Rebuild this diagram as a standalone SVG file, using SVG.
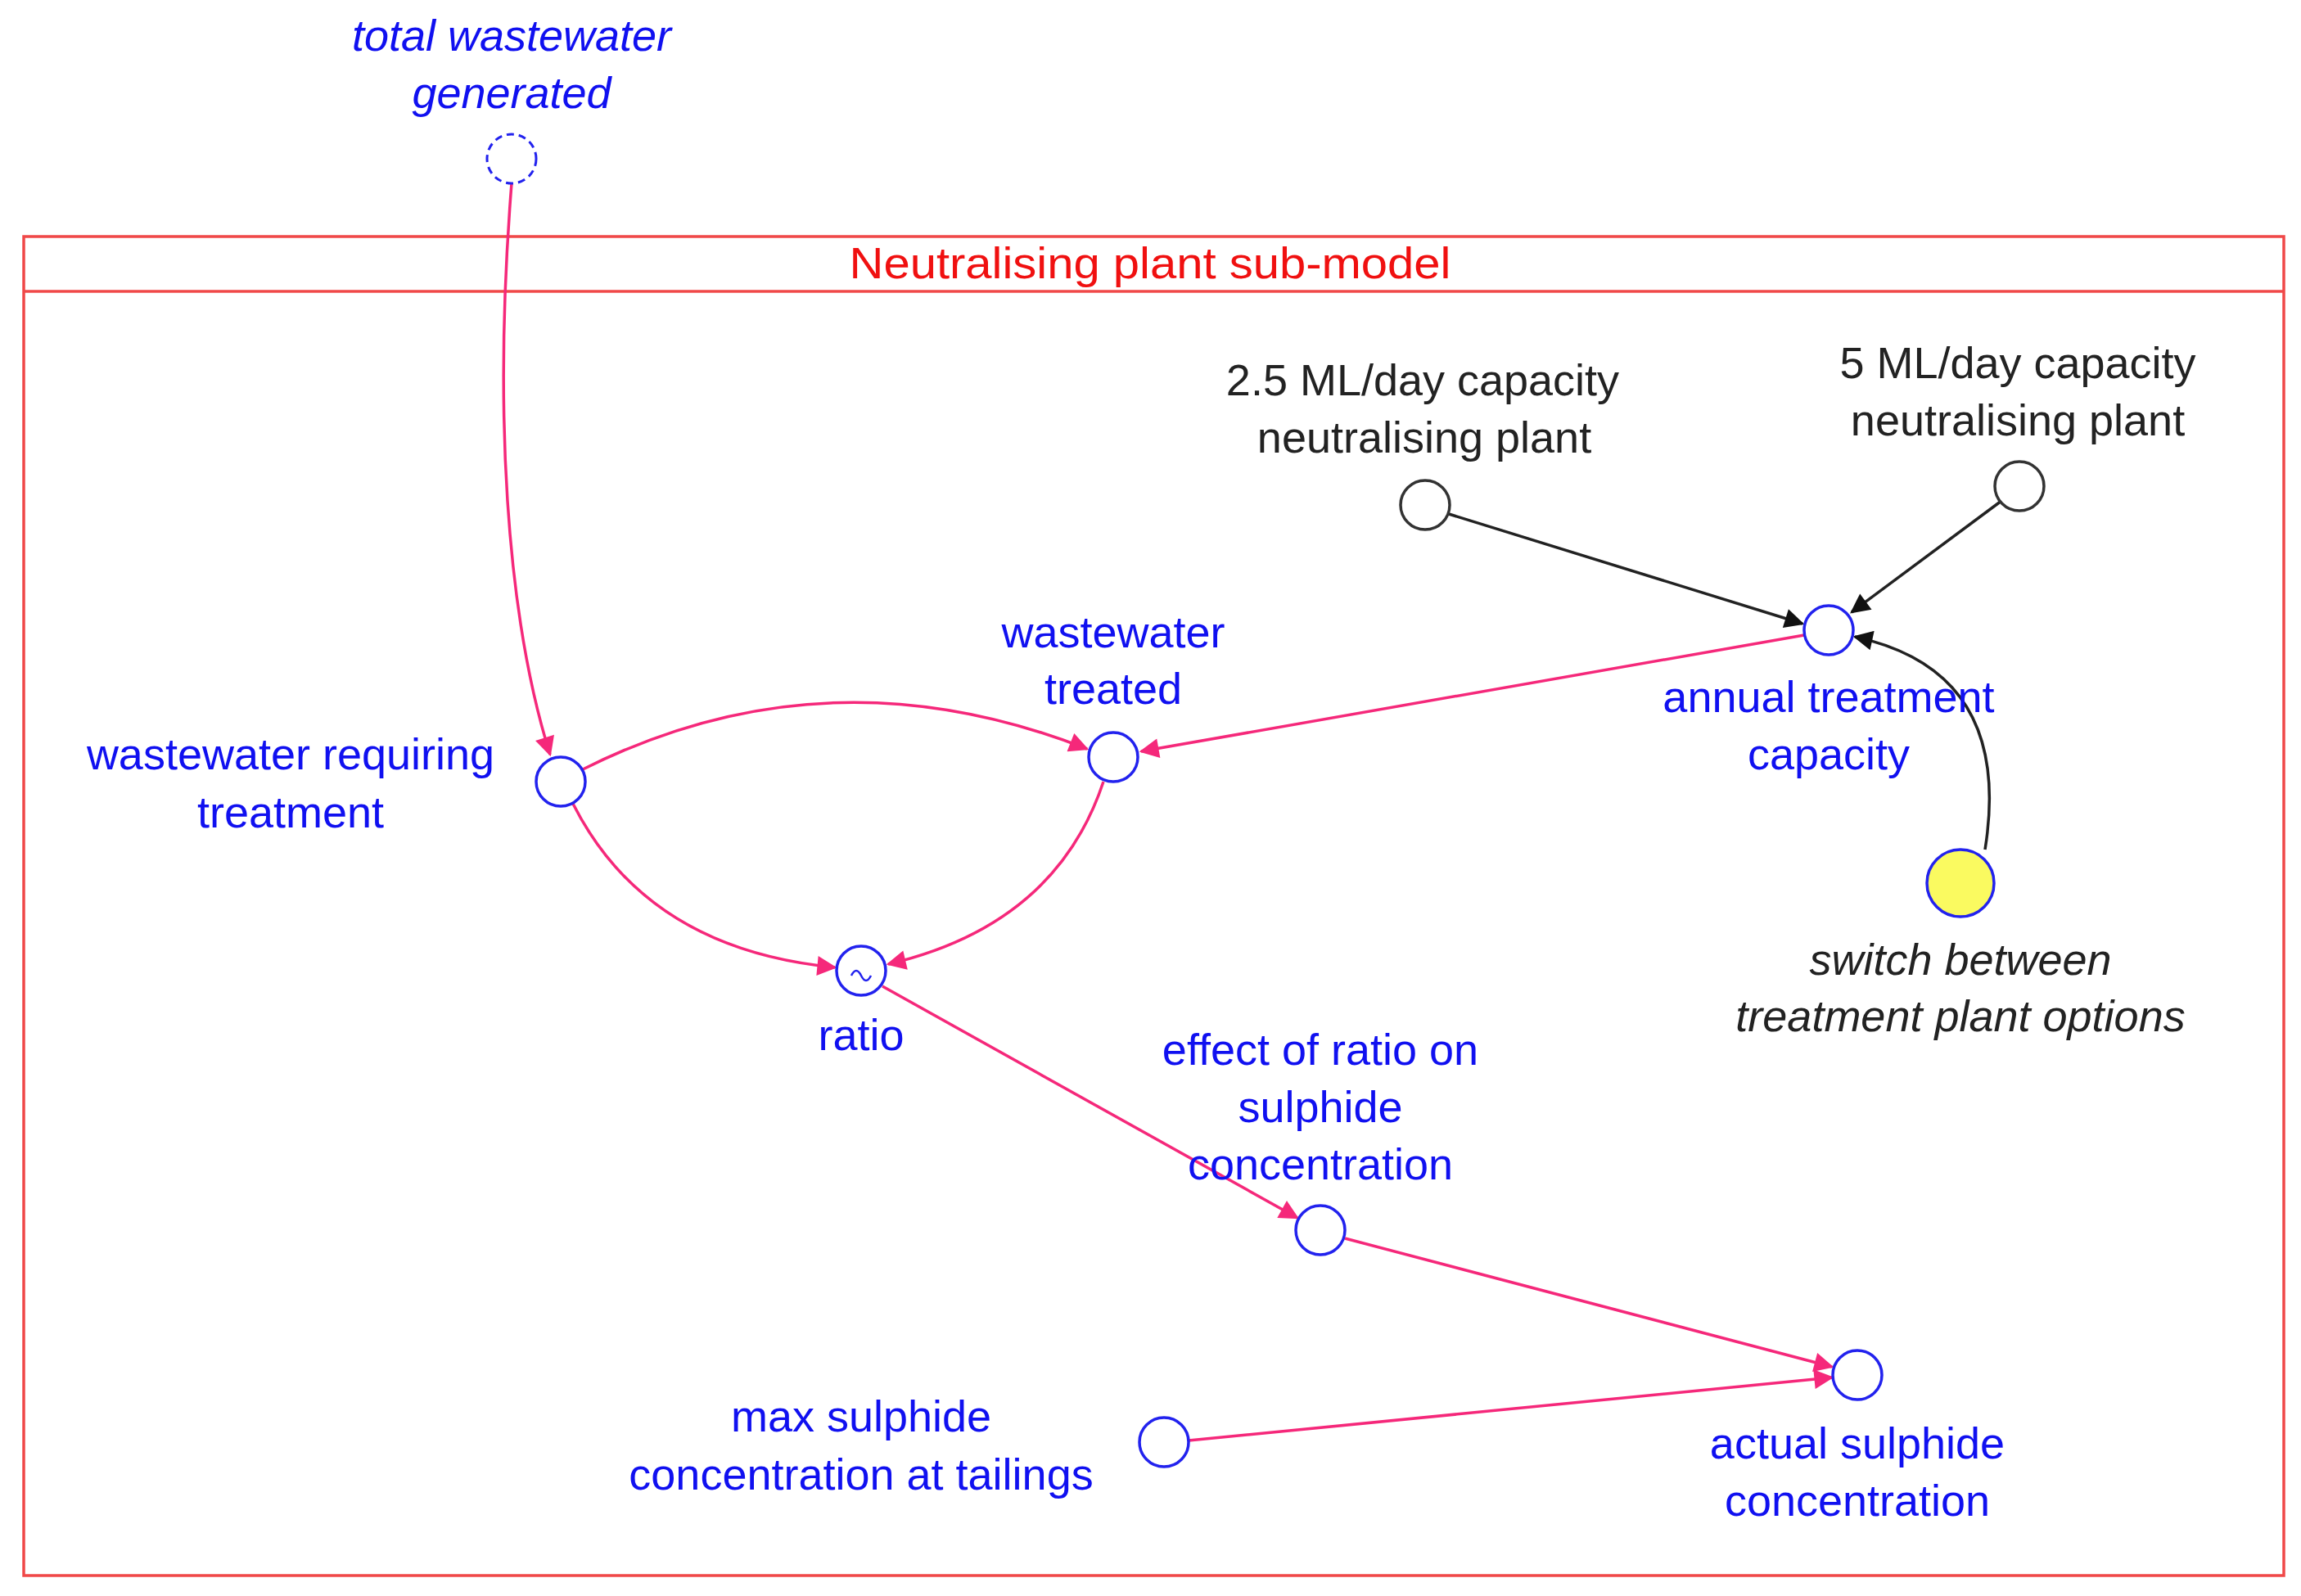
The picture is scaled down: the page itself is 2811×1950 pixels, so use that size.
<svg xmlns="http://www.w3.org/2000/svg" width="2811" height="1950" viewBox="0 0 2811 1950">
<style>
text{font-family:"Liberation Sans",Arial,sans-serif;font-size:54px;text-anchor:middle}
.b{fill:#1010f0}.k{fill:#222}.i{font-style:italic}
.n{fill:#fff;stroke:#2222ee;stroke-width:3.5}
.nk{fill:#fff;stroke:#333;stroke-width:3.5}
.p{fill:none;stroke:#f5287a;stroke-width:3.5}
.bl{fill:none;stroke:#222;stroke-width:3.5}
</style>
<defs>
<marker id="ap" viewBox="0 0 10 10" refX="9" refY="5" markerWidth="28" markerHeight="24" markerUnits="userSpaceOnUse" orient="auto"><path d="M0,0L10,5L0,10z" fill="#f5287a"/></marker>
<marker id="ak" viewBox="0 0 10 10" refX="9" refY="5" markerWidth="28" markerHeight="24" markerUnits="userSpaceOnUse" orient="auto"><path d="M0,0L10,5L0,10z" fill="#111"/></marker>
</defs>
<rect width="2811" height="1950" fill="#fff"/>
<g id="frame">
<rect x="29" y="289" width="2761" height="1636" fill="none" stroke="#f04848" stroke-width="3.5"/>
<line x1="29" y1="356" x2="2790" y2="356" stroke="#f04848" stroke-width="3.5"/>
<text x="1405" y="340" fill="#f01010" textLength="735" lengthAdjust="spacingAndGlyphs">Neutralising plant sub-model</text>
</g>
<g id="connectors">
<path class="p" d="M625,224 C603,500 618,750 672,922" marker-end="url(#ap)"/>
<path class="p" d="M712,940 Q1010,790 1328,915" marker-end="url(#ap)"/>
<path class="p" d="M700,982 Q790,1160 1020,1182" marker-end="url(#ap)"/>
<path class="p" d="M1348,955 Q1290,1130 1085,1178" marker-end="url(#ap)"/>
<path class="p" d="M2204,776 L1394,918" marker-end="url(#ap)"/>
<path class="p" d="M1078,1205 L1585,1488" marker-end="url(#ap)"/>
<path class="p" d="M1643,1513 L2238,1670" marker-end="url(#ap)"/>
<path class="p" d="M1452,1760 L2238,1683" marker-end="url(#ap)"/>
<path class="bl" d="M1770,628 L2202,762" marker-end="url(#ak)"/>
<path class="bl" d="M2445,612 L2262,748" marker-end="url(#ak)"/>
<path class="bl" d="M2425,1038 Q2460,820 2266,778" marker-end="url(#ak)"/>
</g>
<g id="total-wastewater-generated">
<circle cx="625" cy="194" r="30" fill="#fff" stroke="#2222ee" stroke-width="3" stroke-dasharray="9 6"/>
<text class="b i" x="625" y="62">total wastewater</text>
<text class="b i" x="625" y="132">generated</text>
</g>
<g id="wastewater-requiring-treatment">
<circle class="n" cx="685" cy="955" r="30"/>
<text class="b" x="355" y="940">wastewater requiring</text>
<text class="b" x="355" y="1011">treatment</text>
</g>
<g id="wastewater-treated">
<circle class="n" cx="1360" cy="925" r="30"/>
<text class="b" x="1360" y="791">wastewater</text>
<text class="b" x="1360" y="860">treated</text>
</g>
<g id="annual-treatment-capacity">
<circle class="n" cx="2234" cy="770" r="30"/>
<text class="b" x="2234" y="870">annual treatment</text>
<text class="b" x="2234" y="940">capacity</text>
</g>
<g id="plant-2-5">
<circle class="nk" cx="1741" cy="617" r="30"/>
<text class="k" x="1738" y="483">2.5  ML/day capacity</text>
<text class="k" x="1740" y="553">neutralising plant</text>
</g>
<g id="plant-5">
<circle class="nk" cx="2467" cy="594" r="30"/>
<text class="k" x="2465" y="462">5 ML/day capacity</text>
<text class="k" x="2465" y="532">neutralising plant</text>
</g>
<g id="switch">
<circle cx="2395" cy="1079" r="41" fill="#fafa60" stroke="#2222ee" stroke-width="3.5"/>
<text class="k i" x="2395" y="1191">switch between</text>
<text class="k i" x="2395" y="1260">treatment plant options</text>
</g>
<g id="ratio">
<circle class="n" cx="1052" cy="1186" r="30"/>
<path d="M1040,1192 q6,-12 12,0 t12,0" fill="none" stroke="#2222ee" stroke-width="2.5"/>
<text class="b" x="1052" y="1283">ratio</text>
</g>
<g id="effect-of-ratio">
<circle class="n" cx="1613" cy="1503" r="30"/>
<text class="b" x="1613" y="1301">effect of ratio on</text>
<text class="b" x="1613" y="1371">sulphide</text>
<text class="b" x="1613" y="1441">concentration</text>
</g>
<g id="actual-sulphide-concentration">
<circle class="n" cx="2269" cy="1680" r="30"/>
<text class="b" x="2269" y="1782">actual sulphide</text>
<text class="b" x="2269" y="1852">concentration</text>
</g>
<g id="max-sulphide">
<circle class="n" cx="1422" cy="1762" r="30"/>
<text class="b" x="1052" y="1749">max sulphide</text>
<text class="b" x="1052" y="1820">concentration at tailings</text>
</g>
</svg>
